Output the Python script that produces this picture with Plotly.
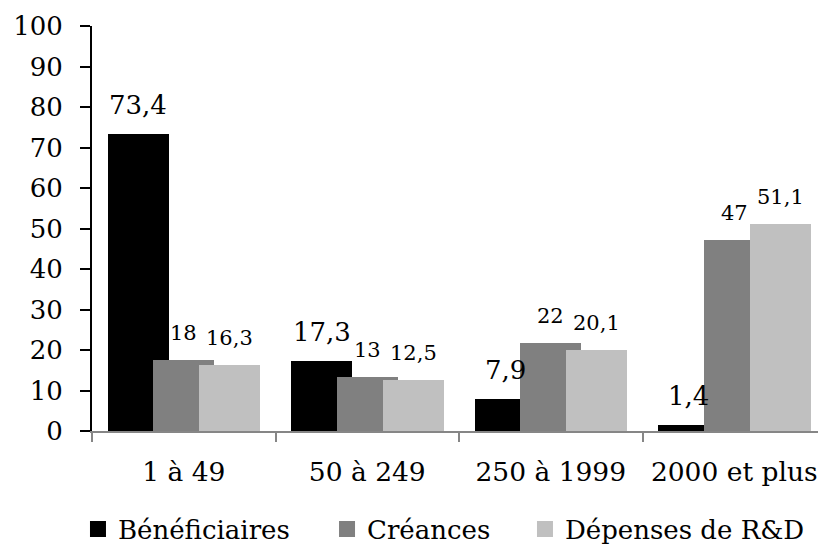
import plotly.graph_objects as go

# ---- data ----
categories = ["1 à 49", "50 à 249", "250 à 1999", "2000 et plus"]
series_names = ["Bénéficiaires", "Créances", "Dépenses de R&D"]
beneficiaires = [73.4, 17.3, 7.9, 1.4]
creances = [17.6, 13.4, 21.8, 47.2]
depenses = [16.3, 12.5, 20.1, 51.1]
y_ticks = list(range(0, 101, 10))

# ---- style ----
colors = ["#000000", "#808080", "#C0C0C0"]
label_sizes = [26, 21, 21]
label_yshift = [12, 13, 13]
label_formats = ["{:.1f}", "{:.0f}", "{:.1f}"]
BAR_W = 0.332
STEP = 0.25
START = -0.415
FONT = "DejaVu Serif"

fig = go.Figure()
all_series = [beneficiaires, creances, depenses]
for s, (name, vals) in enumerate(zip(series_names, all_series)):
    off = START + s * STEP
    fig.add_trace(go.Bar(
        x=categories, y=vals, name=name, width=BAR_W, offset=off,
        marker=dict(color=colors[s], line=dict(width=0)),
        showlegend=False, hoverinfo="x+y+name",
    ))
    for i, v in enumerate(vals):
        fig.add_annotation(
            x=i + off + BAR_W / 2, y=v, xref="x", yref="y",
            text=label_formats[s].format(v).replace(".", ","),
            showarrow=False, yanchor="bottom", xanchor="center",
            yshift=label_yshift[s],
            font=dict(family=FONT, size=label_sizes[s], color="black"),
        )

legend_ids = ["legend", "legend2", "legend3"]
legend_x = [-0.0191, 0.3202, 0.5899]
for s, name in enumerate(series_names):
    fig.add_trace(go.Scatter(
        x=[None], y=[None], mode="markers", name=name,
        marker=dict(symbol="square", size=17, color=colors[s]),
        legend=legend_ids[s], showlegend=True, hoverinfo="skip",
    ))

legend_common = dict(y=-0.242, xanchor="left", yanchor="middle",
                     orientation="h", itemsizing="trace",
                     bgcolor="rgba(0,0,0,0)", borderwidth=0,
                     font=dict(family=FONT, size=26, color="black"))

fig.update_layout(
    width=818, height=544,
    margin=dict(l=84, r=0, t=18, b=121, autoexpand=False),
    plot_bgcolor="white", paper_bgcolor="white",
    font=dict(family=FONT, size=26, color="black"),
    barmode="overlay", bargap=0,
    legend=dict(x=legend_x[0], **legend_common),
    legend2=dict(x=legend_x[1], **legend_common),
    legend3=dict(x=legend_x[2], **legend_common),
    xaxis=dict(
        type="category", range=[-0.5, 3.5],
        showline=True, linecolor="#868686", linewidth=2,
        ticks="outside", tickson="boundaries", ticklen=9,
        tickcolor="#868686", tickwidth=2, showgrid=False,
        ticklabelstandoff=16,
        tickfont=dict(family=FONT, size=26.5, color="black"),
    ),
    yaxis=dict(
        range=[0, 100], tickvals=y_ticks,
        showline=True, linecolor="black", linewidth=2,
        ticks="outside", ticklen=10, tickwidth=2, tickcolor="black",
        showgrid=False, zeroline=False, ticklabelstandoff=12,
        tickfont=dict(family=FONT, size=26, color="black"),
    ),
)

fig.write_html("out.html")
